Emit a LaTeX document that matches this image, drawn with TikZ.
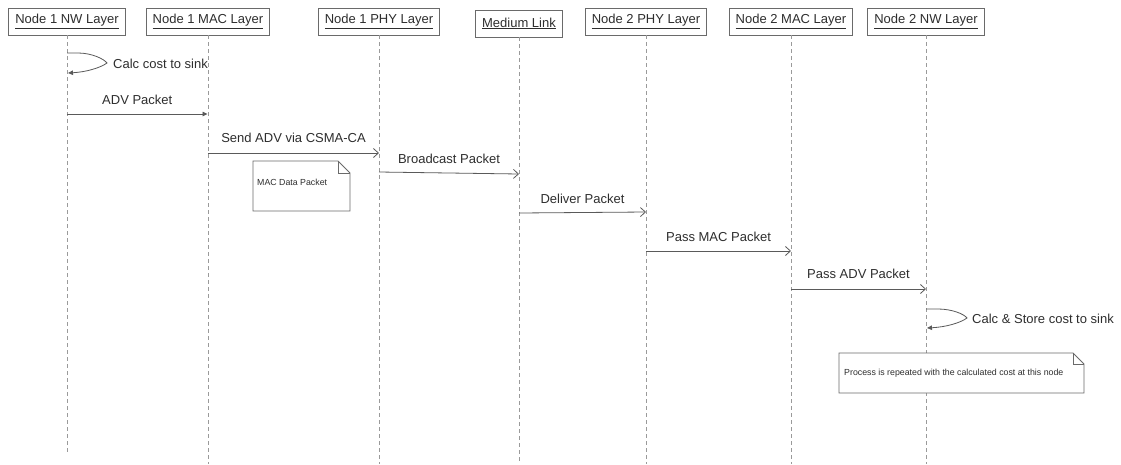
\documentclass[tikz,border=0pt]{standalone}
\usepackage{fontspec}
\setmainfont{Liberation Sans}
\usetikzlibrary{arrows.meta}
\definecolor{boxc}{HTML}{6A6A6A}
\definecolor{txt}{HTML}{2E2E2E}
\definecolor{lnc}{HTML}{5A5A5A}
\definecolor{lifec}{HTML}{9A9A9A}
\tikzset{
  head/.style={draw=boxc, fill=white, line width=0.8pt, text=txt,
    font=\fontsize{13}{15}\selectfont, inner xsep=6.5pt, inner ysep=0pt,
    minimum height=27pt},
  life/.style={draw=lifec, line width=0.8pt, dash pattern=on 4pt off 3pt},
  msg/.style={draw=lnc, line width=0.8pt, -{Straight Barb[length=5pt,width=9pt,line width=0.8pt]}},
  msgf/.style={draw=lnc, line width=0.8pt, -{Triangle[length=5pt,width=4.5pt]}},
  lab/.style={text=txt, font=\fontsize{13}{15}\selectfont, inner sep=0pt},
  notetext/.style={text=txt, font=\fontsize{8.8}{10}\selectfont, inner sep=0pt, anchor=west},
  notebox/.style={draw=boxc, fill=white, line width=0.8pt},
}
\begin{document}
\begin{tikzpicture}[x=1pt,y=-1pt]
\useasboundingbox[fill=white] (0,0) rectangle (1121,464);

% headers
\node[head] (h1) at (67,21.5)  {\underline{Node 1 NW Layer}};
\node[head] (h2) at (208,21.5) {\underline{Node 1 MAC Layer}};
\node[head] (h3) at (379,21.5) {\underline{Node 1 PHY Layer}};
\node[head] (h4) at (519,23.5) {\underline{Medium Link}};
\node[head] (h5) at (646,21.5) {\underline{Node 2 PHY Layer}};
\node[head] (h6) at (791,21.5) {\underline{Node 2 MAC Layer}};
\node[head] (h7) at (926,21.5) {\underline{Node 2 NW Layer}};

% lifeline ends
\coordinate (e1) at (67,455);
\coordinate (e2) at (208,464);
\coordinate (e3) at (379,464);
\coordinate (e4) at (519,464);
\coordinate (e5) at (646,464);
\coordinate (e6) at (791,464);
\coordinate (e7) at (926,464);
\foreach \i in {1,...,7} { \draw[life] (h\i.south) -- (e\i); }

% self message 1
\coordinate (s1a) at (67,53);
\coordinate (s1t) at (107,63);
\coordinate (s1b) at (68,73);
\draw[msgf] (s1a) -- (78,53) .. controls (92,53) and (104,59) .. (s1t)
  .. controls (100,68) and (86,72) .. (s1b);
\node[lab, anchor=west] (l0) at (113,64) {Calc cost to sink};

% ADV Packet
\coordinate (a1) at (67,114);
\coordinate (a2) at (207.5,114);
\draw[msgf] (a1) -- (a2) node[lab, midway, yshift=14pt] (l1) {ADV Packet};

% Send ADV via CSMA-CA
\coordinate (b1) at (208,153);
\coordinate (b2) at (379,153);
\draw[msg] (b1) -- (b2) node[lab, midway, yshift=15pt] (l2) {Send ADV via CSMA-CA};

% note MAC Data Packet
\draw[notebox] (253,161) -- (338,161) -- (350,173) -- (350,211) -- (253,211) -- cycle;
\draw[draw=boxc, line width=0.8pt] (338,161) -- (338,173) -- (350,173);
\node[notetext] (n1) at (257,182) {MAC Data Packet};

% Broadcast Packet
\coordinate (c1) at (379,172);
\coordinate (c2) at (519,174);
\draw[msg] (c1) -- (c2) node[lab, midway, yshift=14pt] (l3) {Broadcast Packet};

% Deliver Packet
\coordinate (d1) at (519,213);
\coordinate (d2) at (646,212);
\draw[msg] (d1) -- (d2) node[lab, midway, yshift=14pt] (l4) {Deliver Packet};

% Pass MAC Packet
\coordinate (f1) at (646,251);
\coordinate (f2) at (791,251);
\draw[msg] (f1) -- (f2) node[lab, midway, yshift=14pt] (l5) {Pass MAC Packet};

% Pass ADV Packet
\coordinate (g1) at (791,289);
\coordinate (g2) at (926,289);
\draw[msg] (g1) -- (g2) node[lab, midway, yshift=15pt] (l6) {Pass ADV Packet};

% self message 2
\coordinate (s2a) at (926,309);
\coordinate (s2t) at (967,318);
\coordinate (s2b) at (927,328);
\draw[msgf] (s2a) -- (938,309) .. controls (952,309) and (964,314) .. (s2t)
  .. controls (960,323) and (946,327) .. (s2b);
\node[lab, anchor=west] (l7) at (972,319) {Calc \& Store cost to sink};

% note process repeated
\draw[notebox] (839,353) -- (1073,353) -- (1084,364) -- (1084,393) -- (839,393) -- cycle;
\draw[draw=boxc, line width=0.8pt] (1073,353) -- (1073,364) -- (1084,364);
\node[notetext] (n2) at (844,373) {Process is repeated with the calculated cost at this node};
\end{tikzpicture}
\end{document}
